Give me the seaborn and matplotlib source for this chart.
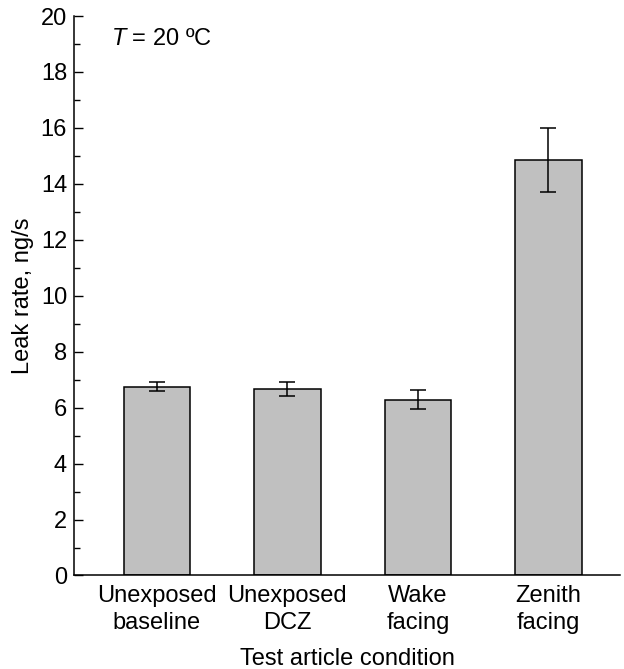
import matplotlib
matplotlib.use("Agg")
import matplotlib.pyplot as plt
import seaborn as sns
import pandas as pd
from matplotlib.ticker import MultipleLocator

# Leak rate per test article condition (mean and error half-width, ng/s)
conditions = ["Unexposed\nbaseline", "Unexposed\nDCZ", "Wake\nfacing", "Zenith\nfacing"]
leak_rate = [6.75, 6.67, 6.29, 14.85]
leak_err = [0.15, 0.25, 0.33, 1.15]
y_ticks = [0, 2, 4, 6, 8, 10, 12, 14, 16, 18, 20]

sns.set_theme(style="ticks")
plt.rcParams["font.family"] = ["Liberation Sans", "DejaVu Sans"]
plt.rcParams["mathtext.fontset"] = "custom"
plt.rcParams["mathtext.rm"] = "Liberation Sans"
plt.rcParams["mathtext.it"] = "Liberation Sans:italic"
for key in ("text.color", "axes.labelcolor", "xtick.color", "ytick.color",
            "axes.edgecolor"):
    plt.rcParams[key] = "black"

FS = 17

df = pd.DataFrame({"condition": conditions, "rate": leak_rate, "err": leak_err})

fig = plt.figure(figsize=(6.24, 6.69), dpi=100)
ax = fig.add_axes([0.1186, 0.1398, 0.875, 0.8362])

sns.barplot(data=df, x="condition", y="rate", color="#c0c0c0", saturation=1,
            width=0.51, edgecolor="black", linewidth=1.1, errorbar=None, ax=ax)
ax.errorbar(range(len(conditions)), df["rate"], yerr=df["err"], fmt="none",
            ecolor="black", elinewidth=1.1, capsize=6, capthick=1.1)

ax.set_xlim(-0.636, 3.55)
ax.set_ylim(0, 20)
ax.set_yticks(y_ticks)
ax.yaxis.set_minor_locator(MultipleLocator(1))
ax.tick_params(axis="y", which="major", direction="in", length=6.5, width=1.0,
               labelsize=FS, pad=5)
ax.tick_params(axis="y", which="minor", direction="in", length=4.5, width=1.0)
ax.tick_params(axis="x", length=0, labelsize=FS, pad=7)
for lab in ax.get_xticklabels():
    lab.set_linespacing(1.3)

sns.despine(ax=ax)
for side in ("left", "bottom"):
    ax.spines[side].set_linewidth(1.1)

ax.set_xlabel("Test article condition", fontsize=FS, labelpad=10)
ax.set_ylabel("Leak rate, ng/s", fontsize=FS, labelpad=5)

ax.text(0.067, 0.948, r"$\it{T}$ = 20 ºC", transform=ax.transAxes,
        fontsize=FS, ha="left", va="baseline")

fig.savefig("out.png", dpi=100)
